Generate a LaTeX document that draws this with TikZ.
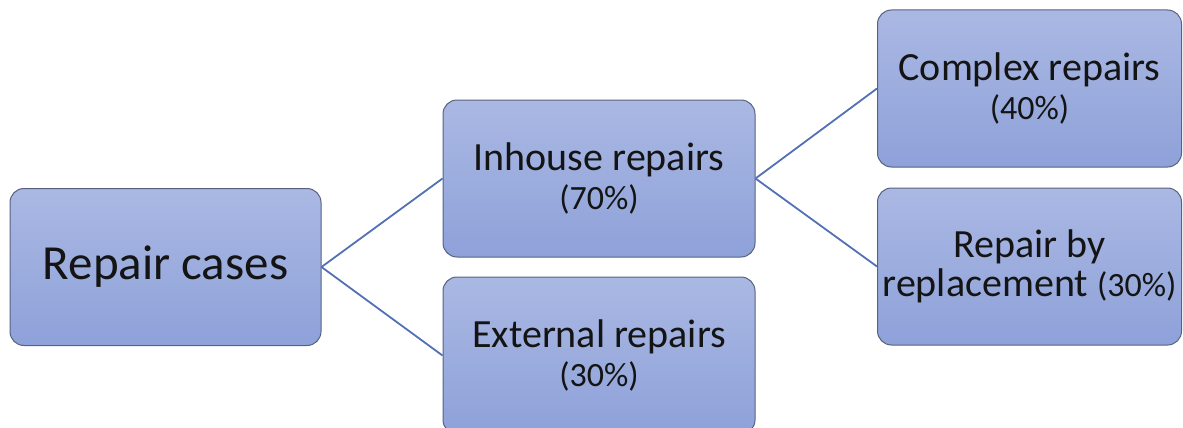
\documentclass[tikz,border=0pt]{standalone}
\usepackage{fontspec}
\setmainfont{Carlito}
\definecolor{boxtop}{RGB}{170,184,227}
\definecolor{boxbot}{RGB}{142,161,217}
\definecolor{boxline}{RGB}{88,98,128}
\definecolor{linkcol}{RGB}{82,112,180}
\tikzset{
  casebox/.style={draw=boxline, line width=1pt, rounded corners=14pt,
    top color=boxtop, bottom color=boxbot, minimum height=157pt,
    align=center, inner sep=0pt, text=black!92,
    font=\fontsize{40}{38}\selectfont},
  rootbox/.style={casebox, font=\fontsize{49}{50}\selectfont},
  link/.style={draw=linkcol, line width=1.8pt}
}
\newcommand{\share}[1]{{\fontsize{34}{38}\selectfont #1}}
\begin{document}
\begin{tikzpicture}[x=1pt,y=-1pt]
  \useasboundingbox (0,0) rectangle (1183,428);
  \begin{scope}
    \clip (0,0) rectangle (1183,428);
    \node[rootbox, minimum width=311pt] (rc) at (165.5,267) {Repair cases};
    \node[casebox, minimum width=312pt] (ih) at (599,178.5) {Inhouse repairs\\[1pt]\share{(70\%)}};
    \node[casebox, minimum width=312pt] (ex) at (599,355.5) {External repairs\\[1pt]\share{(30\%)}};
    \node[casebox, minimum width=304pt] (cx) at (1029.5,88.5) {Complex repairs\\[1pt]\share{(40\%)}};
    \node[casebox, minimum width=304pt] (rr) at (1029.5,266.5) {Repair by\\[1pt]replacement \share{(30\%)}};
    \draw[link] (rc.east) -- (ih.west);
    \draw[link] (rc.east) -- (ex.west);
    \draw[link] (ih.east) -- (cx.west);
    \draw[link] (ih.east) -- (rr.west);
  \end{scope}
\end{tikzpicture}
\end{document}
